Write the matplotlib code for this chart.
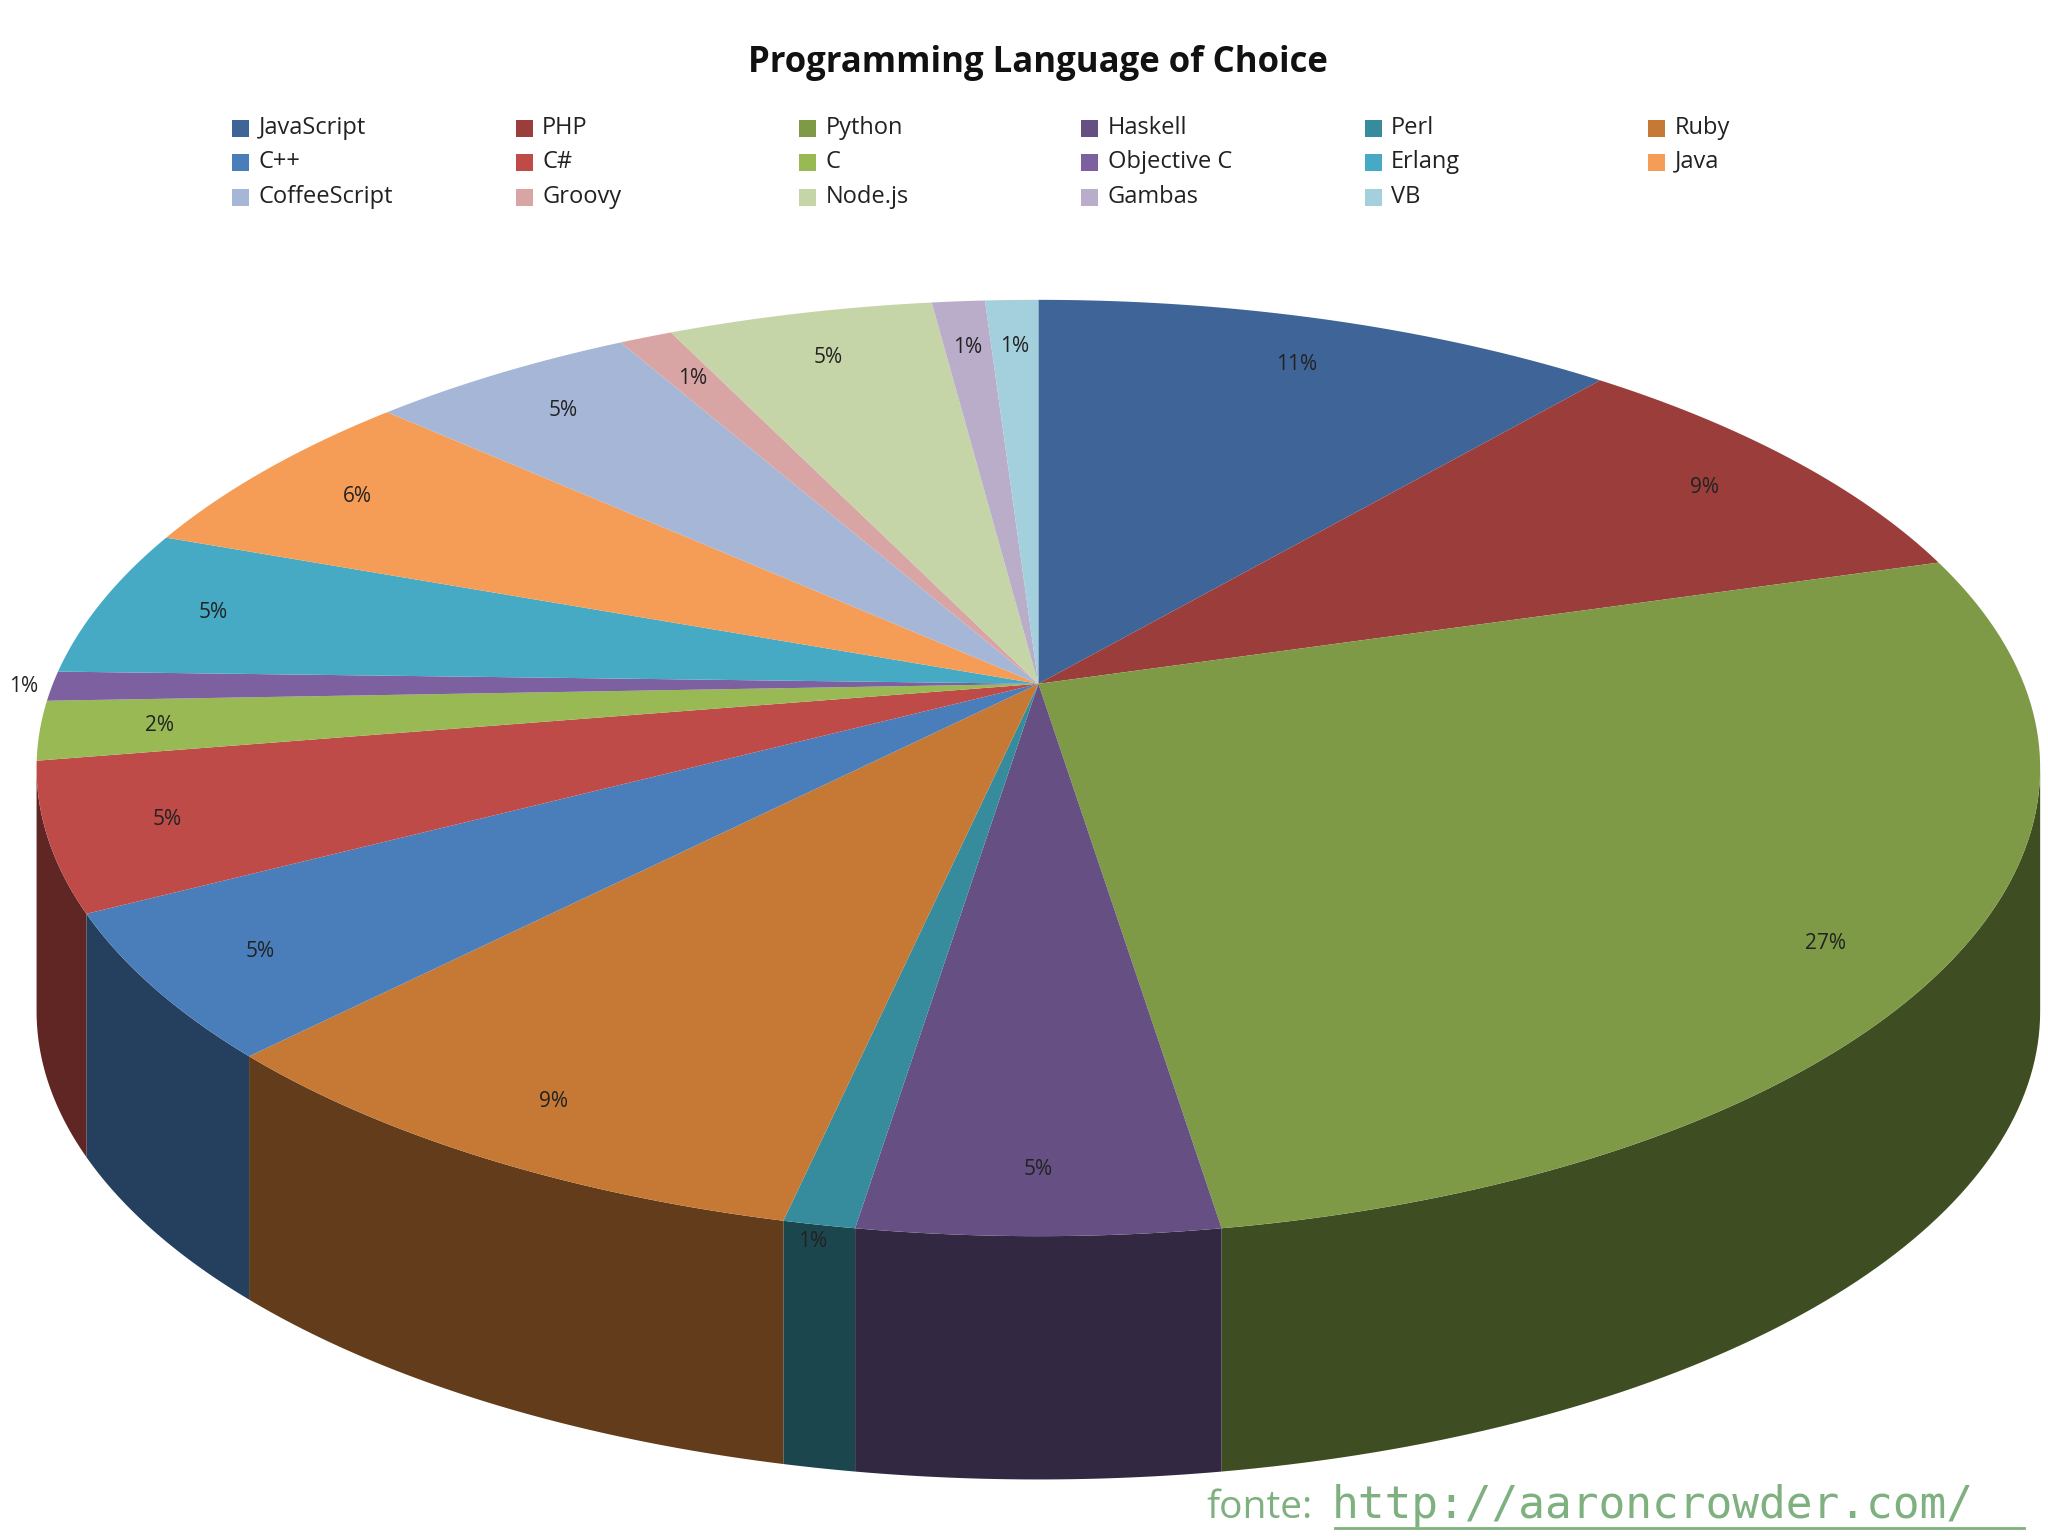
import numpy as np
import matplotlib.pyplot as plt
import matplotlib.colors as mcolors
from matplotlib.patches import Polygon, Rectangle

plt.rcParams['font.family'] = ['Open Sans', 'DejaVu Sans']

# slices in clockwise order from 12 o'clock
languages = ["JavaScript", "PHP", "Python", "Haskell", "Perl", "Ruby", "C++", "C#", "C",
             "Objective C", "Erlang", "Java", "CoffeeScript", "Groovy", "Node.js", "Gambas", "VB"]
shares = [11, 9, 27, 5, 1, 9, 5, 5, 2, 1, 5, 6, 5, 1, 5, 1, 1]
colors = ["#3F6598", "#9A3D3B", "#7E9A46", "#664F82", "#368B9C", "#C67935", "#4A7EBB", "#BE4B48",
          "#98B954", "#7D60A0", "#46AAC5", "#F59D56", "#A6B6D6", "#D8A5A4", "#C6D5A7", "#B9ADCA", "#A4CFDC"]
legend_rows = [
    ["JavaScript", "PHP", "Python", "Haskell", "Perl", "Ruby"],
    ["C++", "C#", "C", "Objective C", "Erlang", "Java"],
    ["CoffeeScript", "Groovy", "Node.js", "Gambas", "VB"],
]

W, H = 1568, 1168
fig = plt.figure(figsize=(20.48, 15.36), dpi=100)
ax = fig.add_axes([0, 0, 1, 1])
ax.set_xlim(0, W)
ax.set_ylim(H, 0)
ax.axis("off")

cx, cy, rx, ry = 795, 584, 767, 356
apex = (795, 520)
depth = 185
warp = 0.16  # perspective squeeze toward the back


def persp(t):
    return t - warp * np.sin(t)


def rim(t):
    return cx + rx * np.sin(t), cy - ry * np.cos(t)


total = sum(shares)
bounds = persp(np.concatenate([[0], np.cumsum(shares)]) / total * 2 * np.pi)

# sides (front half only)
for i, c in enumerate(colors):
    a0, a1 = max(bounds[i], np.pi / 2), min(bounds[i + 1], 3 * np.pi / 2)
    if a1 <= a0:
        continue
    t = np.linspace(a0, a1, 80)
    x, y = rim(t)
    pts = np.column_stack([np.r_[x, x[::-1]], np.r_[y, y[::-1] + depth]])
    dark = np.array(mcolors.to_rgb(c)) * 0.5
    ax.add_patch(Polygon(pts, closed=True, facecolor=dark, edgecolor="none"))

# tops
for i, c in enumerate(colors):
    t = np.linspace(bounds[i], bounds[i + 1], 100)
    x, y = rim(t)
    pts = np.vstack([[apex], np.column_stack([x, y])])
    ax.add_patch(Polygon(pts, closed=True, facecolor=c, edgecolor="none"))

# percentage labels
for i, s in enumerate(shares):
    tm = (bounds[i] + bounds[i + 1]) / 2
    bx, by = rim(tm)
    f = 0.88
    if s == 1 and np.pi < tm < 1.6 * np.pi:
        f = 1.03
    lx = max(apex[0] + f * (bx - apex[0]), 18)
    ly = apex[1] + f * (by - apex[1])
    ax.text(lx, ly, f"{s}%", fontsize=15, ha="center", va="center", color="#222222")

ax.text(795, 48, "Programming Language of Choice", fontsize=25, fontweight="bold",
        ha="center", va="center", color="#111111")

col_x = [178, 395, 612, 828, 1045, 1262]
row_y = [97, 123, 150]
for r, row in enumerate(legend_rows):
    for k, name in enumerate(row):
        c = colors[languages.index(name)]
        ax.add_patch(Rectangle((col_x[k], row_y[r] - 6), 13, 13, facecolor=c, edgecolor="none"))
        ax.text(col_x[k] + 20, row_y[r], name, fontsize=17, ha="left", va="center", color="#222222")

green = "#7FB07F"
ax.text(1005, 1147, "fonte:", fontsize=28, ha="right", va="center", color=green)
ax.text(1020, 1145, "http://aaroncrowder.com/", fontsize=32, ha="left", va="center",
        color=green, family="DejaVu Sans Mono")
ax.plot([1022, 1550], [1162, 1162], color=green, lw=2)

fig.savefig("out.png", dpi=100)
